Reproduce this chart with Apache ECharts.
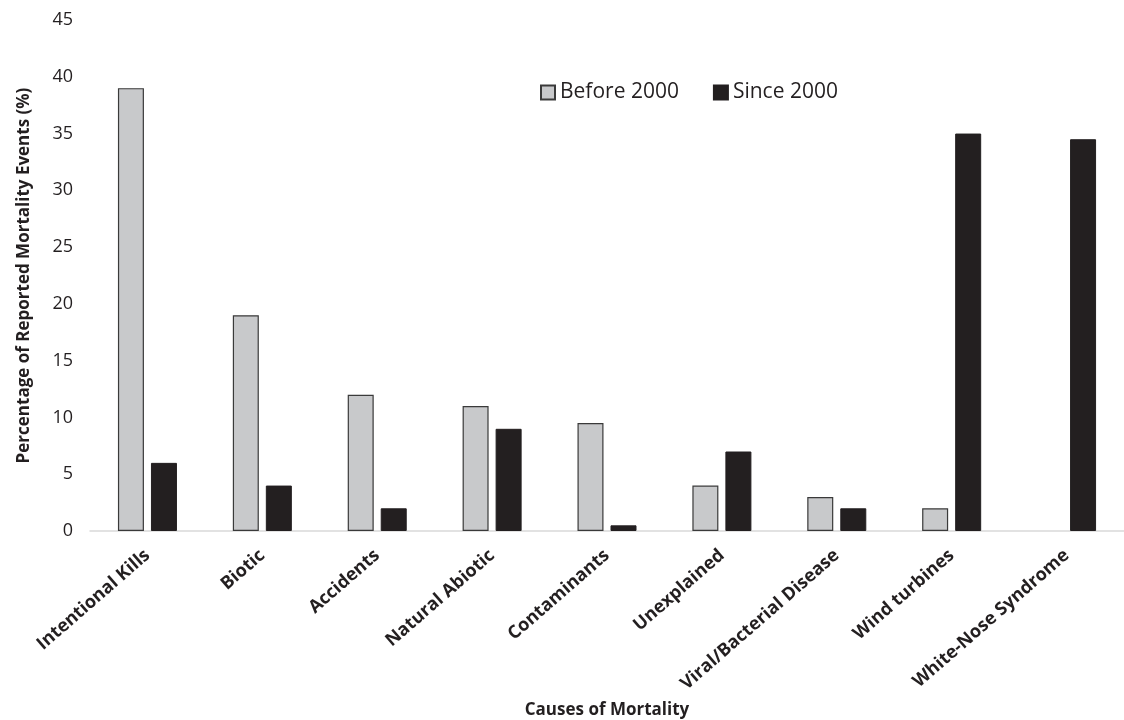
<!DOCTYPE html>
<html>
<head>
<meta charset="utf-8">
<script src="https://cdn.jsdelivr.net/npm/echarts@6/dist/echarts.min.js"></script>
<style>
html,body{margin:0;padding:0;background:#fff;}
#chart{width:1124px;height:720px;}
</style>
</head>
<body>
<div id="chart"></div>
<script>
const categories = ["Intentional Kills","Biotic","Accidents","Natural Abiotic","Contaminants","Unexplained","Viral/Bacterial Disease","Wind turbines","White-Nose Syndrome"];
const before2000 = [39, 19, 12, 11, 9.5, 4, 3, 2, null];
const since2000 = [6, 4, 2, 9, 0.5, 7, 2, 35, 34.5];
const seriesNames = ["Before 2000","Since 2000"];
const yTicks = {min: 0, max: 45, interval: 5};

const FONT = '"Open Sans", sans-serif';
const chart = echarts.init(document.getElementById('chart'), null, {renderer:'canvas'});
chart.setOption({
  animation: false,
  backgroundColor: '#ffffff',
  textStyle: {fontFamily: FONT},
  grid: {left: 90, right: 0, top: 20, bottom: 189, containLabel: false, outerBoundsMode: 'none'},
  legend: {
    left: 535, top: 77,
    itemWidth: 14, itemHeight: 14, itemGap: 34,
    icon: 'rect',
    textStyle: {fontFamily: FONT, fontSize: 21, color: '#231F20'},
    data: seriesNames
  },
  xAxis: {
    type: 'category',
    data: categories,
    name: 'Causes of Mortality',
    nameLocation: 'middle',
    nameGap: 171,
    nameMoveOverlap: false,
    nameTextStyle: {fontFamily: FONT, fontSize: 17, fontWeight: 'bold', color: '#231F20'},
    axisLine: {lineStyle: {color: '#D9D9D9', width: 1.5}},
    axisTick: {show: false},
    axisLabel: {rotate: 41, interval: 0, margin: 22, fontFamily: FONT, fontSize: 18, fontWeight: 'bold', color: '#231F20'}
  },
  yAxis: {
    type: 'value',
    min: yTicks.min, max: yTicks.max, interval: yTicks.interval,
    name: 'Percentage of Reported Mortality Events (%)',
    nameLocation: 'middle',
    nameGap: 57,
    nameMoveOverlap: false,
    nameTextStyle: {fontFamily: FONT, fontSize: 17, fontWeight: 'bold', color: '#231F20'},
    axisLine: {show: false},
    axisTick: {show: false},
    splitLine: {show: false},
    axisLabel: {margin: 17, fontFamily: FONT, fontSize: 18, color: '#231F20'}
  },
  series: [
    {
      name: seriesNames[0], type: 'bar', data: before2000,
      barWidth: 26, barGap: '27%',
      itemStyle: {color: '#C8C9CB', borderColor: '#3A3A3A', borderWidth: 1.2}
    },
    {
      name: seriesNames[1], type: 'bar', data: since2000,
      barWidth: 26,
      itemStyle: {color: '#231F20', borderColor: '#231F20', borderWidth: 1}
    }
  ]
});
</script>
</body>
</html>
